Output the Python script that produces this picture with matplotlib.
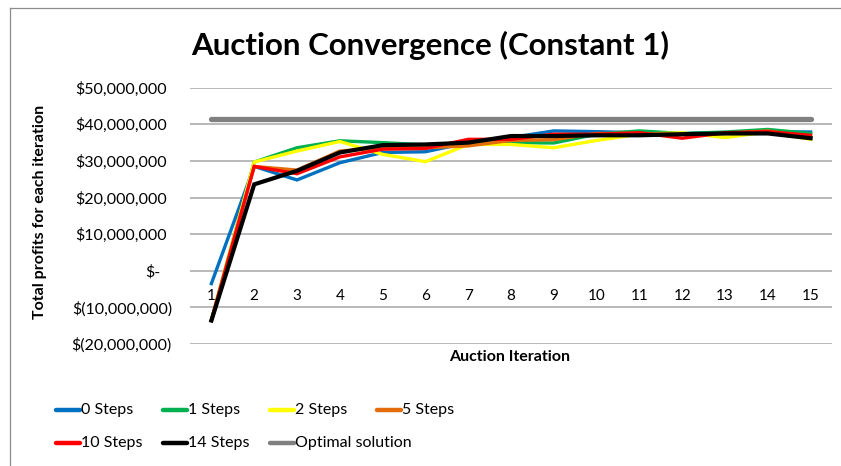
import matplotlib
matplotlib.use("Agg")
import matplotlib.pyplot as plt
from matplotlib.lines import Line2D
from matplotlib.ticker import FuncFormatter

plt.rcParams['font.family'] = ['Lato', 'DejaVu Sans']

# auction iteration
iterations = list(range(1, 16))

# total profit per iteration, millions of dollars
steps_0 = [-3.5, 28.5, 24.8, 29.5, 32.3, 32.5, 35.0, 36.4, 38.2, 38.0, 37.7, 37.5, 37.7, 38.0, 37.9]
steps_1 = [-13.5, 29.7, 33.6, 35.5, 35.0, 34.4, 34.7, 35.0, 34.9, 37.3, 38.2, 37.5, 37.9, 38.6, 37.5]
steps_2 = [-13.5, 29.7, 32.7, 35.3, 31.8, 29.8, 34.5, 34.5, 33.6, 35.6, 37.3, 37.7, 36.4, 37.9, 35.9]
steps_5 = [-13.5, 28.5, 27.5, 32.7, 33.6, 33.6, 34.1, 35.6, 35.8, 37.5, 37.5, 37.3, 37.5, 38.2, 36.4]
steps_10 = [-13.5, 28.5, 26.5, 31.1, 33.2, 33.4, 35.9, 35.9, 37.3, 37.3, 37.7, 36.2, 37.7, 38.0, 37.0]
steps_14 = [-13.6, 23.6, 27.3, 32.3, 34.3, 34.5, 35.0, 36.8, 36.8, 37.0, 37.0, 37.3, 37.5, 37.5, 36.2]
optimal = [41.4] * 15

series_names = ["0 Steps", "1 Steps", "2 Steps", "5 Steps", "10 Steps", "14 Steps", "Optimal solution"]
series_vals = [steps_0, steps_1, steps_2, steps_5, steps_10, steps_14, optimal]
colors = ["#0070C0", "#00B050", "#FFFF00", "#E46C0A", "#FF0000", "#000000", "#808080"]
widths = [2.4, 2.4, 2.4, 2.4, 2.4, 3.0, 3.8]

fig = plt.figure(figsize=(8.41, 4.66), dpi=100)
W, H = 841, 466
ax = fig.add_axes([190 / W, 1 - 344 / H, (832 - 190) / W, (344 - 87.7) / H])

for name, vals, c, lw in zip(series_names, series_vals, colors, widths):
    if name == "Optimal solution":
        ax.plot(iterations, [v * 1e6 for v in vals], color=c, lw=lw, solid_capstyle='round', zorder=2)
    else:
        ax.plot(iterations, [v * 1e6 for v in vals], color=c, lw=lw, solid_joinstyle='miter', zorder=3)

ax.set_xlim(0.5, 15.5)
ax.set_ylim(-20e6, 50e6)
yticks = [v * 1e6 for v in range(-20, 51, 10)]
ax.set_yticks(yticks)
ax.set_xticks(iterations)


def money(v, pos):
    if abs(v) < 1:
        return "$-"
    if v < 0:
        return "$({:,.0f})".format(-v)
    return "${:,.0f}".format(v)


ax.yaxis.set_major_formatter(FuncFormatter(money))
ax.grid(axis='y', color='#A6A6A6', lw=1.1)
ax.set_axisbelow(True)
for s in ax.spines.values():
    s.set_visible(False)
ax.spines['bottom'].set_position(('data', 0))
ax.tick_params(axis='both', length=0, labelsize=11.5, colors='#000000')
ax.tick_params(axis='x', labelsize=11, pad=13)

# accounting-style alignment: negatives stick out past the positives
for t, v in zip(ax.yaxis.get_major_ticks(), yticks):
    if v < 0:
        t.set_pad(13)
    elif v == 0:
        t.set_pad(21.5)
    else:
        t.set_pad(16.8)

fig.text(430 / W, 1 - 45 / H, "Auction Convergence (Constant 1)", ha='center', va='center',
         fontsize=22.5, fontweight='bold')
fig.text(40 / W, 1 - 212 / H, "Total profits for each iteration", rotation=90, ha='center',
         va='center', fontsize=11.5, fontweight='bold')
fig.text(510 / W, 1 - 357 / H, "Auction Iteration", ha='center', va='center',
         fontsize=11.5, fontweight='bold')

# legend laid out like the original: 4 equal columns
for i, (name, c, lw) in enumerate(zip(series_names, colors, widths)):
    row, col = divmod(i, 4)
    x0 = 56 + col * 107
    y = 1 - (410 + row * 33) / H
    fig.add_artist(Line2D([x0 / W, (x0 + 24) / W], [y, y], color=c, lw=3.2, solid_capstyle='round'))
    fig.text((x0 + 25) / W, y, name, ha='left', va='center', fontsize=11.5)

# chart area border
fig.add_artist(Line2D([9.5 / W, 9.5 / W], [0, 1 - 8 / H], color='#8C8C8C', lw=0.9))
fig.add_artist(Line2D([9.5 / W, 1], [1 - 8 / H, 1 - 8 / H], color='#8C8C8C', lw=0.9))

fig.savefig("out.png", dpi=100)
